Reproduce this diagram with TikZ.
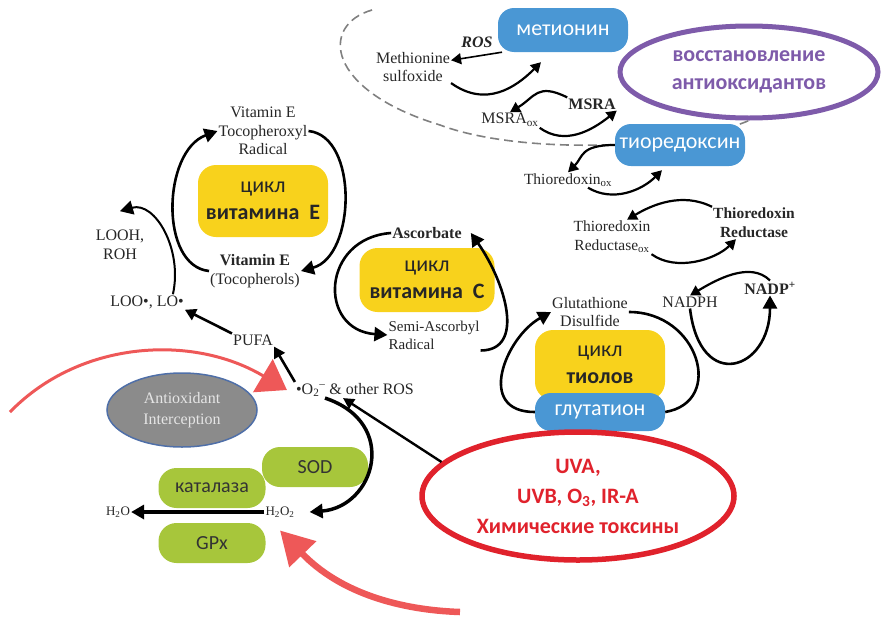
\documentclass[tikz,border=0pt]{standalone}
\usepackage{fontspec}
\setmainfont{Liberation Serif}
\newfontfamily\rufont{Carlito}
\usetikzlibrary{shapes.geometric,arrows.meta}
\definecolor{boxblue}{HTML}{4A97D4}
\definecolor{cycyellow}{HTML}{F8D21C}
\definecolor{enzgreen}{HTML}{A7C63B}
\definecolor{restviolet}{HTML}{7E5BAA}
\definecolor{toxred}{HTML}{E0222C}
\definecolor{arrred}{HTML}{EE5858}
\definecolor{intergray}{HTML}{8B8B8B}
\definecolor{interblue}{HTML}{4F6FA8}
\begin{document}
\begin{tikzpicture}[x=1pt, y=-1pt,
	lbl/.style={font=\fontsize{16}{18.5}\selectfont, align=center, inner sep=1pt, text=black!85},
	lblb/.style={lbl, font=\fontsize{16}{18.5}\selectfont\bfseries},
	bluebox/.style={fill=boxblue, rounded corners=16pt, minimum width=130pt, minimum height=42pt, text=white, font=\rufont\fontsize{22}{24}\selectfont},
	yellowbox/.style={fill=cycyellow, rounded corners=18pt, minimum height=68pt, align=center, text=black!85, font=\rufont\fontsize{22}{27}\selectfont},
	greenbox/.style={fill=enzgreen, rounded corners=18pt, minimum width=106pt, minimum height=40pt, text=black!80, font=\rufont\fontsize{20}{22}\selectfont},
	cyc/.style={line width=2.6pt, -{Triangle[length=13pt,width=14pt]}},
	swoosh/.style={line width=2.2pt, -{Triangle[length=10pt,width=11pt]}},
	redarr/.style={draw=arrred, line width=3pt},
	]
	\useasboundingbox (0,0) rectangle (888,616);
	\node [ellipse, draw=restviolet, line width=5pt, fill=white, minimum width=258pt, minimum height=92pt, inner sep=0pt, align=center, text=restviolet, font=\rufont\bfseries\fontsize{22}{28}\selectfont] (restore) at (749,72) {восстановление\\антиоксидантов};
	\coordinate (lasso) at (372,10);
	\path [draw, dashed, gray, line width=1.6pt, dash pattern=on 9pt off 5pt] (lasso) .. controls (320,25) and (325,90) .. (440,125) .. controls (520,155) and (680,150) .. (restore.south);
	\node [bluebox, minimum height=44pt] (met) at (563,30) {метионин};
	\node [bluebox] (trx) at (680,145) {тиоредоксин};
	\node [lbl, font=\fontsize{16}{18}\selectfont\bfseries\itshape] (ros) at (477,42) {ROS};
	\node [lbl] (metso) at (413,67) {Methionine\\sulfoxide};
	\node [lblb] (msra) at (592,104) {MSRA};
	\node [lbl] (msraox) at (510,120) {MSRA\textsubscript{ox}};
	\node [lbl, font=\fontsize{15.5}{18}\selectfont] (trxox) at (568,180) {Thioredoxin\textsubscript{ox}};
	\node [lbl, font=\fontsize{15.5}{19}\selectfont] (trrox) at (612,237) {Thioredoxin\\Reductase\textsubscript{ox}};
	\node [lblb, font=\fontsize{15.5}{19}\selectfont\bfseries] (trr) at (754,223) {Thioredoxin\\Reductase};
	\node [lbl] (nadph) at (690,302) {NADPH};
	\node [lblb] (nadpplus) at (770,288) {NADP\textsuperscript{+}};
	\node [lbl] (gssg) at (590,312) {Glutathione\\Disulfide};
	\node [yellowbox, minimum width=130pt, minimum height=70pt] (thiol) at (600,365) {цикл\\\textbf{тиолов}};
	\node [bluebox, minimum width=130pt, minimum height=38pt] (gsh) at (600,412) {глутатион};
	\node [lbl] (toco) at (263,131) {Vitamin E\\Tocopheroxyl\\Radical};
	\node [yellowbox, minimum width=130pt, minimum height=72pt] (cycE) at (263,201) {цикл\\\textbf{витамина~ Е}};
	\node [lbl] (vitE) at (255,271) {\textbf{Vitamin E}\\(Tocopherols)};
	\node [lbl] (looh) at (120,245) {LOOH,\\ROH};
	\node [lbl] (loo) at (147,302) {LOO•, LO•};
	\node [lbl] (pufa) at (253,340) {PUFA};
	\node [lbl] (oros) at (355,390) {•O\textsubscript{2}\textsuperscript{–}\ \& other ROS};
	\node [lblb] (asc) at (427,233) {Ascorbate};
	\node [yellowbox, minimum width=135pt, minimum height=64pt] (cycC) at (427,280) {цикл\\\textbf{витамина~ С}};
	\node [lbl, align=left, font=\fontsize{15}{18}\selectfont] (semi) at (434,335) {Semi-Ascorbyl\\Radical};
	\node [ellipse, fill=intergray, draw=interblue, line width=1.5pt, minimum width=150pt, minimum height=74pt, inner sep=0pt, align=center, text=black!10, font=\fontsize{16}{21}\selectfont] (interc) at (182,410) {Antioxidant\\Interception};
	\node [greenbox] (sod) at (315,467) {SOD};
	\node [greenbox, minimum width=107pt] (cat) at (212,488) {каталаза};
	\node [greenbox, minimum width=107pt] (gpx) at (212,543) {GPx};
	\node [lbl, font=\fontsize{13}{15}\selectfont] (water) at (118,512) {H\textsubscript{2}O};
	\node [lbl, font=\fontsize{13}{15}\selectfont] (hperox) at (280,512) {H\textsubscript{2}O\textsubscript{2}};
	\node [ellipse, draw=toxred, line width=5.5pt, fill=white, minimum width=312pt, minimum height=128pt, inner sep=0pt, align=center, text=toxred, font=\rufont\bfseries\fontsize{22}{30}\selectfont] (toxins) at (578,496) {UVA,\\UVB, O\textsubscript{3}, IR-A\\Химические токсины};
	\draw [swoosh, line width=1.6pt] (met.200) -- (metso.10);
	\draw [swoosh] (metso.south east) .. controls +(35,25) and +(-25,25) .. ([xshift=-22pt,yshift=-10pt]met.south);
	\draw [swoosh] (msra.north west) .. controls +(-30,-15) and +(25,-15) .. (msraox.north);
	\draw [swoosh] (msraox.south east) .. controls +(25,18) and +(-25,20) .. (msra.south east);
	\draw [swoosh] (trx.west) .. controls +(-35,0) and +(15,-15) .. (trxox.north);
	\draw [swoosh] ([xshift=20pt]trxox.south) .. controls +(25,15) and +(-20,20) .. ([xshift=-18pt,yshift=-4pt]trx.south);
	\draw [swoosh] (trr.north west) .. controls +(-30,-15) and +(25,-15) .. ([xshift=15pt]trrox.north);
	\draw [swoosh] (trrox.south east) .. controls +(25,18) and +(-20,20) .. ([xshift=-18pt]trr.south);
	\draw [swoosh] (nadpplus.north) .. controls +(-20,-20) and +(25,-15) .. (nadph.north);
	\draw [cyc] (nadph.south) .. controls +(10,85) and +(0,75) .. (nadpplus.south);
	\draw [cyc] (gsh.west) .. controls +(-60,0) and +(-45,25) .. (gssg.west);
	\draw [line width=2.6pt] (gssg.east) .. controls +(70,0) and +(60,-10) .. (gsh.east);
	\draw [cyc] (vitE.west) .. controls +(-50,-5) and +(-55,20) .. (toco.west);
	\draw [cyc] (toco.east) .. controls +(50,5) and +(55,-15) .. (vitE.east);
	\draw [cyc] (asc.west) .. controls +(-70,5) and +(-70,-5) .. (semi.west);
	\draw [cyc] (semi.south east) .. controls +(45,0) and +(35,50) .. ([xshift=8pt]asc.east);
	\draw [cyc, line width=2pt] ([xshift=-12pt]loo.north east) .. controls +(10,-45) and +(35,-10) .. ([yshift=18pt]looh.north);
	\draw [cyc, line width=2.6pt, -{Triangle[length=11pt,width=12pt]}] (pufa.north west) -- (loo.south east);
	\draw [cyc, line width=2.6pt, -{Triangle[length=11pt,width=12pt]}] (oros.north west) -- (pufa.south east);
	\draw [line width=2.4pt, -{Triangle[length=11pt,width=11pt]}] (toxins.166) -- ([xshift=-12pt]oros.south);
	\draw [cyc, line width=3.5pt] ([xshift=-30pt]oros.south) .. controls +(75,25) and +(65,-5) .. ([xshift=14pt]hperox.east);
	\draw [cyc, line width=4pt] (hperox.west) -- (water.east);
	\coordinate (redA) at (10,412);
	\coordinate (redB) at (460,612);
	\draw [redarr, -{Triangle[length=28pt,width=38pt]}, arrred] (redA) .. controls (80,340) and (193,334) .. ([xshift=-8pt]oros.west);
	\draw [redarr, line width=6.5pt, -{Triangle[length=33pt,width=36pt]}, arrred] (redB) .. controls (400,610) and (340,593) .. ([yshift=-12pt]hperox.south);
\end{tikzpicture}
\end{document}
